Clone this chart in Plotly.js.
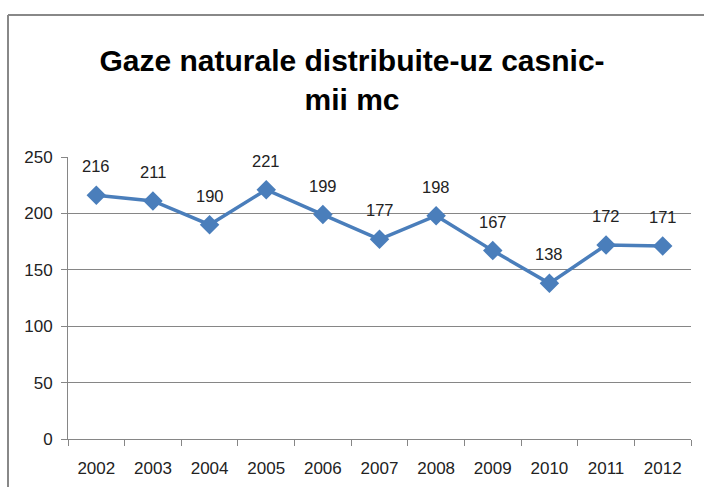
<!DOCTYPE html>
<html>
<head>
<meta charset="utf-8">
<script src="https://cdn.plot.ly/plotly-3.0.1.min.js"></script>
<style>
html,body{margin:0;padding:0;background:#fff;}
#chart{width:704px;height:487px;}
</style>
</head>
<body>
<div id="chart"></div>
<script>
const years = [2002, 2003, 2004, 2005, 2006, 2007, 2008, 2009, 2010, 2011, 2012];
const values = [216, 211, 190, 221, 199, 177, 198, 167, 138, 172, 171];
const yTicks = [0, 50, 100, 150, 200, 250];
const titleText = "Gaze naturale distribuite-uz casnic-<br>mii mc";

const trace = {
  x: years,
  y: values,
  type: "scatter",
  mode: "lines+markers",
  line: {color: "#4A7EBB", width: 3.5},
  marker: {symbol: "diamond", size: 15, color: "#4A7EBB"},
  hoverinfo: "none"
};

const annotations = years.map((yr, i) => ({
  x: yr, y: values[i], xref: "x", yref: "y",
  text: String(values[i]), showarrow: false, yshift: 29,
  font: {family: "Liberation Sans", size: 16.5, color: "#222"}
}));

const layout = {
  width: 704, height: 487,
  margin: {l: 68, r: 13, t: 157, b: 48},
  paper_bgcolor: "#fff", plot_bgcolor: "#fff",
  showlegend: false,
  title: {
    text: titleText,
    font: {family: "Liberation Sans", size: 30, color: "#000", weight: "bold"},
    x: 0.5, xanchor: "center", y: 0.855, yanchor: "middle"
  },
  xaxis: {
    type: "linear",
    range: [years[0] - 0.5, years[years.length - 1] + 0.5],
    tickvals: years,
    ticktext: years.map(String),
    ticks: "",
    ticklabelstandoff: 14,
    minor: {ticks: "outside", tick0: years[0] - 0.5, dtick: 1, ticklen: 6, tickcolor: "#868686", showgrid: false},
    showgrid: false,
    zeroline: false,
    showline: true, linecolor: "#868686", linewidth: 1,
    tickfont: {family: "Liberation Sans", size: 17, color: "#222"},
    fixedrange: true
  },
  yaxis: {
    range: [0, 250],
    tickvals: yTicks,
    ticks: "outside", ticklen: 6, tickcolor: "#868686",
    ticklabelstandoff: 5,
    showgrid: true, gridcolor: "#868686", gridwidth: 1,
    zeroline: false,
    showline: true, linecolor: "#868686", linewidth: 1,
    tickfont: {family: "Liberation Sans", size: 17, color: "#222"},
    fixedrange: true
  },
  annotations: annotations,
  shapes: [
    {type: "line", xref: "paper", yref: "paper", x0: -0.0963, x1: 1.1, y0: 1.5035, y1: 1.5035, line: {color: "#888", width: 2}},
    {type: "line", xref: "paper", yref: "paper", x0: -0.0963, x1: -0.0963, y0: 1.5035, y1: -0.3, line: {color: "#888", width: 2}}
  ]
};

Plotly.newPlot("chart", [trace], layout, {displayModeBar: false, staticPlot: true});
</script>
</body>
</html>
